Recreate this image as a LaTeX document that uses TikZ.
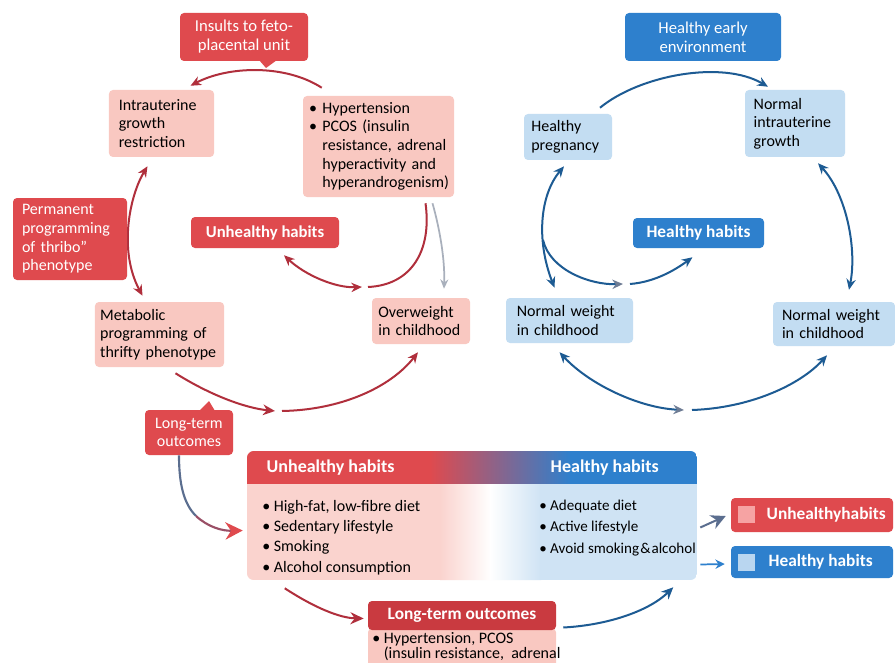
\documentclass[tikz,border=0pt]{standalone}
\usepackage{fontspec}
\setmainfont{Carlito}
\usetikzlibrary{arrows.meta,calc}
\definecolor{redc}{HTML}{DF4A4E}
\definecolor{dredc}{HTML}{C93A40}
\definecolor{pinkc}{HTML}{F9C8C1}
\definecolor{pinkl}{HTML}{FAD3CE}
\definecolor{bluec}{HTML}{2E80CD}
\definecolor{lbluec}{HTML}{C3DDF2}
\definecolor{lbl}{HTML}{CFE3F4}
\definecolor{arrred}{HTML}{B02F3C}
\definecolor{arrblue}{HTML}{1D5B93}
\definecolor{grayc}{HTML}{A9B0BC}
\definecolor{grayhead}{HTML}{6E7C94}
\definecolor{slate}{HTML}{5B6E8F}
\definecolor{mauve}{HTML}{9A4F66}
\definecolor{sqpink}{HTML}{F6A3A3}
\definecolor{sqblue}{HTML}{B9D6F0}
\newcommand\fnorm{\fontsize{12}{14}\selectfont}
\newcommand\fbig{\fontsize{12.5}{14.2}\selectfont}
\newcommand\fbold{\fontsize{13}{14}\selectfont\bfseries}
\begin{document}
\begin{tikzpicture}[x=0.75pt,y=-0.75pt,font=\fnorm,
  pinkbox/.style={fill=pinkc,rounded corners=3pt,align=left,text=black,inner ysep=0pt},
  lbbox/.style={fill=lbluec,rounded corners=3pt,align=left,text=black,inner ysep=0pt},
  redbox/.style={fill=redc,rounded corners=3pt,text=white,align=center,inner ysep=0pt},
  bluebox/.style={fill=bluec,rounded corners=3pt,text=white,align=center,inner ysep=0pt},
  tipR/.tip={Stealth[length=8pt,width=7pt]},
  redarr/.style={draw=arrred,line width=1.5pt},
  bluearr/.style={draw=arrblue,line width=1.5pt},
]
\useasboundingbox (0,0) rectangle (895,663);
\fill[white] (0,0) rectangle (895,663);

% ---------- left cycle nodes ----------
\node[redbox,minimum width=96pt,minimum height=36pt,font=\fbig] (ins) at (244,37) {Insults to feto-\\placental unit};
\fill[redc] (259,60) -- (277,60) -- (266,68) -- cycle;
\node[pinkbox,minimum width=78.75pt,minimum height=50.25pt,text width=64pt,inner xsep=7.4pt] (iugr) at (161.5,123.5) {Intrauterine\\growth\\restriction};
\node[pinkbox,minimum width=113.25pt,minimum height=75.75pt,text width=104pt,inner xsep=4.6pt] (hyp) at (378.5,146.5)
 {\textbullet\ Hypertension\\\textbullet\ PCOS (insulin\\\phantom{\textbullet\ }resistance, adrenal\\\phantom{\textbullet\ }hyperactivity and\\\phantom{\textbullet\ }hyperandrogenism)};
\node[redbox,minimum width=111pt,minimum height=23.25pt,font=\fontsize{12.5}{14}\selectfont\bfseries] (unh1) at (265,232.5) {Unhealthy habits};
\node[pinkbox,minimum width=96.75pt,minimum height=48.75pt,text width=89pt,inner xsep=3.9pt] (meta) at (159.5,334.5) {Metabolic\\programming of\\thrifty phenotype};
\node[pinkbox,minimum width=73.5pt,minimum height=34.5pt,text width=64pt,inner xsep=4.75pt] (over) at (421,321) {Overweight\\in childhood};
\coordinate (m1) at (279,411);
\coordinate (m2) at (365,287);

% arrows left
\draw[redarr,-{tipR}] ($(hyp.north west)+(19,-8)$) .. controls (285,64) and (228,66) .. ($(iugr.north)+(29,-4)$);
\draw[redarr,{tipR}-{tipR}] ($(iugr.south)+(-14,9)$) .. controls (130,195) and (118,250) .. ($(meta.north)+(-17,-6)$);
\draw[redarr,-{Stealth[length=9pt,width=8pt,open,line width=1.5pt]}] ($(meta.south)+(16,6)$) .. controls (210,395) and (245,408) .. ($(m1)+(-4,0)$);
\draw[redarr,-{tipR}] ($(m1)+(3,0)$) .. controls (340,410) and (390,388) .. ($(over.south)+(-3,8)$);
\draw[redarr] ($(hyp.south)+(47,6)$) .. controls (432,250) and (412,285) .. ($(m2)+(3,0)$);
\draw[redarr,{tipR}-{tipR}] ($(unh1.south)+(19,7)$) .. controls (305,275) and (335,288) .. ($(m2)+(-3,0)$);
\draw[draw=grayc,line width=1.3pt,-{Stealth[length=7pt,width=6pt]}] ($(hyp.south)+(54,6)$) .. controls (440,230) and (445,260) .. ($(over.north)+(23,-9)$);

\node[redbox,minimum width=85.5pt,minimum height=61.5pt,text width=72pt,inner xsep=6.75pt,align=left] (perm) at (70,239) {Permanent\\programming\\of thribo”\\phenotype};

\node[redbox,minimum width=66pt,minimum height=33.75pt] (lto) at (189,432.5) {Long-term\\outcomes};
\fill[redc] (199,411) -- (215,411) -- (209,401) -- cycle;

% ---------- right cycle nodes ----------
\node[bluebox,minimum width=117pt,minimum height=36pt,font=\fbig] (hee) at (703,37) {Healthy early\\environment};
\node[lbbox,minimum width=66pt,minimum height=34.5pt,text width=55pt,inner xsep=5.5pt] (hp) at (568,137) {Healthy\\pregnancy};
\node[lbbox,minimum width=75pt,minimum height=50.25pt,text width=62pt,inner xsep=6.5pt] (nig) at (795,123.5) {Normal\\intrauterine\\growth};
\node[bluebox,minimum width=98.25pt,minimum height=22.5pt,font=\fbold] (hh1) at (698.5,233) {Healthy habits};
\node[lbbox,minimum width=95.25pt,minimum height=33.75pt,text width=79pt,inner xsep=8.1pt] (nw1) at (569.5,320.5) {Normal weight\\in childhood};
\node[lbbox,minimum width=91.5pt,minimum height=33pt,text width=78pt,inner xsep=6.75pt] (nw2) at (834,324) {Normal weight\\in childhood};
\coordinate (m3) at (626,284);
\coordinate (m4) at (688,410);
\coordinate (br) at (543,240);

\draw[bluearr,-{tipR}] ($(hp.north)+(32,-6)$) .. controls (640,75) and (722,60) .. ($(nig.north)+(-27,-3)$);
\draw[bluearr,{tipR}-{tipR}] ($(hp.south)+(-4,6)$) .. controls (540,195) and (536,240) .. ($(nw1.north)+(-15,-10)$);
\draw[bluearr,-{Stealth[length=8pt,width=7pt,color=grayhead]}] (br) .. controls (550,270) and (590,285) .. ($(m3)+(-3,0)$);
\draw[bluearr,-{tipR}] ($(m3)+(4,0)$) .. controls (655,282) and (675,270) .. ($(hh1.south)+(-6,9)$);
\draw[bluearr,{tipR}-{tipR}] ($(nig.south)+(23,6)$) .. controls (847,195) and (857,250) .. ($(nw2.north)+(15,-12)$);
\draw[bluearr,{tipR}-{Stealth[length=8pt,width=7pt,color=grayhead]}] ($(nw1.south)+(-10,9)$) .. controls (590,385) and (640,408) .. ($(m4)+(-4,0)$);
\draw[bluearr,-{tipR}] ($(m4)+(4,0)$) .. controls (750,408) and (800,385) .. ($(nw2.south)+(-7,9)$);

% ---------- bottom panel ----------
\begin{scope}
\clip[rounded corners=5pt] (247,451) rectangle (697,580);
\fill[redc] (247,451) rectangle (431,484);
\shade[left color=redc,right color=bluec] (430,451) rectangle (571,484);
\fill[bluec] (570,451) rectangle (697,484);
\fill[pinkl] (247,484) rectangle (441,580);
\shade[left color=pinkl,right color=white] (440,484) rectangle (491,580);
\shade[left color=white,right color=lbl] (490,484) rectangle (541,580);
\fill[lbl] (540,484) rectangle (697,580);
\end{scope}
\node[minimum width=337.5pt,minimum height=96.75pt,inner sep=0pt] (panel) at (472,515.5) {};
\node[anchor=west,text=white,font=\fontsize{13.5}{14}\selectfont\bfseries] (uhh) at (262,468) {Unhealthy habits};
\node[anchor=west,text=white,font=\fontsize{13.5}{14}\selectfont\bfseries] (hhh) at (546,468) {Healthy habits};
\node[anchor=west,align=left,inner sep=0pt,font=\fontsize{12}{15.3}\selectfont] (ul) at (262,537.5)
 {\textbullet\ High-fat, low-fibre diet\\\textbullet\ Sedentary lifestyle\\\textbullet\ Smoking\\\textbullet\ Alcohol consumption};
\node[anchor=west,align=left,inner sep=0pt,font=\fontsize{11.3}{15.8}\selectfont] (hl) at (539,528)
 {\textbullet\ Adequate diet\\\textbullet\ Active lifestyle\\\textbullet\ Avoid smoking\kern0.8pt\&\kern0.8pt alcohol};

\coordinate (mc1) at (196,516);
\draw[line width=1.6pt,draw=slate] ($(lto.south)+(-10,0)$) .. controls (179,485) and (184,504) .. (mc1);
\draw[line width=1.6pt,draw=mauve,-{Stealth[length=13pt,width=13pt,color=redc]}] (mc1) .. controls (208,527) and (222,531) .. ($(panel.west)+(-4,15)$);

% legend
\node[redbox,minimum width=121.5pt,minimum height=25.5pt] (leg1) at (812,515) {};
\node[fill=sqpink,minimum size=12.75pt,inner sep=0pt] (sq1) at (746.5,514) {};
\node[anchor=west,text=white,font=\fbold] (lt1) at (762,515) {Unhealthyhabits};
\node[bluebox,minimum width=121.5pt,minimum height=24pt] (leg2) at (812,562) {};
\node[fill=sqblue,minimum size=12.75pt,inner sep=0pt] (sq2) at (746.5,562) {};
\node[anchor=west,text=white,font=\fbold] (lt2) at (764,562) {Healthy habits};
\draw[line width=1.5pt,draw=slate,-{Stealth[length=11pt,width=11pt]}] ($(panel.east)+(3,12)$) -- ($(leg1.west)+(-5,1)$);
\draw[line width=1.3pt,draw=bluec,-{Stealth[length=7pt,width=7pt]}] ($(panel.east)+(3,49)$) -- ($(leg2.west)+(-6,2)$);

% long-term outcomes bottom
\node[fill=pinkc,rounded corners=3pt,anchor=north,minimum width=141pt,minimum height=45pt,inner sep=0pt] (lto2b) at (462,628) {};
\node[anchor=north west,align=left,inner sep=0pt,font=\fontsize{12}{11.5}\selectfont] (lto2t) at (372,632)
 {\textbullet\ Hypertension, PCOS\\\phantom{\textbullet\ }(insulin resistance,\ \ adrenal};
\node[fill=dredc,rounded corners=3pt,minimum width=141pt,minimum height=21.75pt,inner sep=0pt,text=white,font=\fbold] (lto2) at (462,615.5) {Long-term outcomes};
\draw[redarr,-{Stealth[length=10pt,width=9pt]}] ($(panel.south west)+(38,8)$) .. controls (315,608) and (340,618) .. ($(lto2.west)+(-4,3)$);
\draw[bluearr,-{Stealth[length=9pt,width=8pt]}] ($(lto2.east)+(7,12)$) .. controls (610,625) and (650,610) .. ($(panel.south east)+(-24,7)$);
\end{tikzpicture}
\end{document}
